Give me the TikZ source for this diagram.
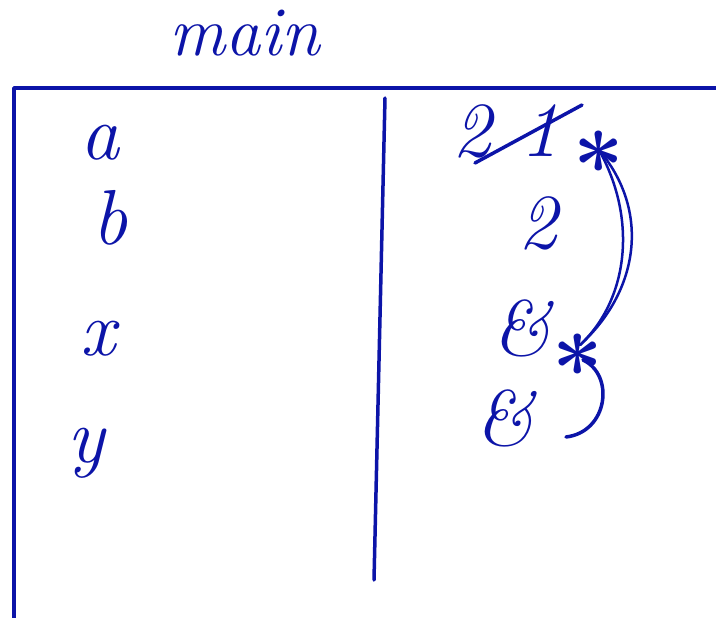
\documentclass[tikz,border=0pt]{standalone}
\begin{document}
\definecolor{ink}{RGB}{12,20,168}
\begin{tikzpicture}[x=1pt,y=-1pt,
  pen/.style={draw=ink,line width=3.5pt,line cap=round,line join=round},
  hand/.style={text=ink,font=\fontsize{78}{80}\selectfont\itshape,inner sep=0pt,anchor=base},
  starmark/.style={text=ink,font=\fontsize{90}{90}\selectfont\bfseries,inner sep=0pt}]
\useasboundingbox (0,0) rectangle (716,618);
% frame
\coordinate (tl) at (14,88);
\coordinate (tr) at (716,88);
\coordinate (bl) at (14,618);
\coordinate (dtop) at (385,98);
\coordinate (dbot) at (374,580);
\draw[pen] (bl) -- (tl) -- (tr);
\draw[pen] (dtop) -- (dbot);
% title
\node[hand,font=\fontsize{70}{72}\selectfont\itshape] (title) at (245,56) {main};
% variable names
\node[hand] (na) at (100,160) {a};
\node[hand] (nb) at (110,244) {b};
\node[hand] (nx) at (98,355) {x};
\node[hand] (ny) at (86,462) {y};
% values
\node[hand] (v1a) at (472,157) {2};
\node[hand] (v1b) at (540,157) {1};
\coordinate (s1) at (475,163);
\coordinate (s2) at (582,105);
\draw[pen] (s1) -- (s2);
\node[hand] (v2) at (538,248) {2};
\node[hand] (v3) at (522,355) {\&};
\node[hand] (v4) at (505,445) {\&};
% stars
\node[starmark] (st1) at (599,165) {*};
\node[starmark] (st2) at (578,368) {*};
% pointer arrows
\draw[pen,line width=2.5pt] (599,150) .. controls (650,210) and (640,290) .. (580,345);
\draw[pen,line width=2.5pt] (599,150) .. controls (638,220) and (628,300) .. (580,345);
\coordinate (e2) at (566,437);
\draw[pen] (583,360) .. controls (615,375) and (608,432) .. (e2);
\end{tikzpicture}
\end{document}
